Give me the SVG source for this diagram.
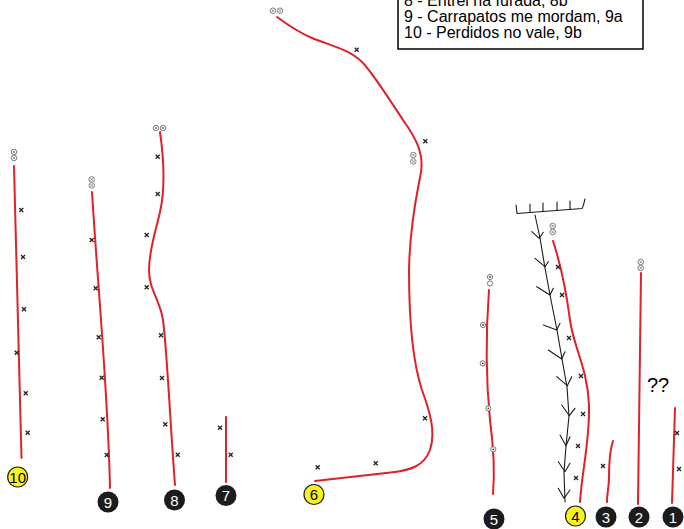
<svg xmlns="http://www.w3.org/2000/svg" xmlns:xlink="http://www.w3.org/1999/xlink" width="684" height="529" viewBox="0 0 684 529">
  <style>
    .route { fill: none; stroke: #e0202a; stroke-width: 2; stroke-linecap: round; stroke-linejoin: round; }
    .rock { fill: none; stroke: #1a1a1a; stroke-width: 1.1; stroke-linecap: round; stroke-linejoin: round; }
    .legend { font-family: "Liberation Sans", Arial, sans-serif; font-size: 16px; fill: #000; }
    .num { font-family: "Liberation Sans", Arial, sans-serif; font-size: 15px; text-anchor: middle; }
    .dark circle { fill: #1c1c1c; }
    .dark text { fill: #fff; }
    .hi circle { fill: #f7f21c; stroke: #1c1c1c; stroke-width: 1.2; }
    .hi text { fill: #000; }
    .q { font-family: "Liberation Sans", Arial, sans-serif; font-size: 20px; fill: #000; }
  </style>
  <defs>
    <!-- bolt -->
    <g id="x">
      <path d="M-2,-2 L2,2 M2,-2 L-2,2" stroke="#222" stroke-width="1.3" fill="none"/>
    </g>
    <!-- anchor ring with cross -->
    <g id="a">
      <circle r="2.8" fill="#fff" stroke="#777" stroke-width="0.9"/>
      <path d="M-1.5,-1.5 L1.5,1.5 M1.5,-1.5 L-1.5,1.5" stroke="#777" stroke-width="0.8"/>
    </g>
    <!-- ring bolt -->
    <g id="r">
      <circle r="2.6" fill="#fff" stroke="#555" stroke-width="0.8"/>
      <circle r="0.9" fill="#333"/>
    </g>
  </defs>

  <rect width="684" height="529" fill="#fff"/>

  <!-- legend box -->
  <g id="legend">
    <rect x="398" y="-60" width="245" height="109" fill="#fff" stroke="#000" stroke-width="1.5"/>
    <text class="legend" x="404" y="6.3">8 - Entrei na furada, 8b</text>
    <text class="legend" x="404" y="22">9 - Carrapatos me mordam, 9a</text>
    <text class="legend" x="404" y="37.6">10 - Perdidos no vale, 9b</text>
  </g>

  <!-- route lines -->
  <g id="connectors">
    <path class="route" d="M14,166 C16,260 19,340 20,400 L21.5,458"/>
    <path class="route" d="M92,192 C98,290 108,390 110,488"/>
    <path class="route" d="M160,132 C164,160 165,190 160,212 C156,230 149,250 149,270 C149,290 160,300 163,320 C167,350 170,420 175,485"/>
    <path class="route" d="M226,417 L226,482"/>
    <path class="route" d="M277,17 C292,28 300,33 312,38 C335,47 350,50 362,62 C372,72 390,100 403,120 C415,137 424,152 421,172 C418,190 410,220 409,270 C409,320 412,360 422,390 C430,412 436,432 430,450 C424,466 410,470 395,472 L315,481"/>
    <path class="route" d="M489,290 C486,330 486,380 490,420 C494,450 495,470 493,494"/>
    <path class="route" d="M553,241 C560,262 566,290 570,320 C573,345 588,370 589,405 C590,440 582,470 580,502"/>
    <path class="route" d="M613,441 C610,450 609,465 609,477 C609,487 607,493 607,502"/>
    <path class="route" d="M641,273 L638,504"/>
    <path class="route" d="M675,408 L672,503"/>
  </g>

  <!-- crack / dihedral with comb overhang -->
  <g id="crack">
    <path class="rock" d="M516,205 L517,213.5 L582,208.5 C584,205 584,202 585,199"/>
    <path class="rock" d="M530,204 L530,212.5 M543,203 L543,211.5 M557,202 L557,210.5 M570,201 L570,209.5"/>
    <path class="rock" d="M535,215 L540,238 L545,268 L550,295 L557,330 L562,359 L567,387 L569,416 L566,446 L564,472 L565,502"/>
    <path class="rock" d="M531.7,231.7 L539.3,238.3 L543.3,232.3 M535,258.3 L545,266.7 L548.3,261.7 M536.7,286.7 L550,295 L553.3,288.3 M543.3,325 L556.7,330 L560,323.3 M548.3,350 L561.7,359 L565,351.7 M556.7,376.7 L567.3,385.7 L571.7,376.7 M561.7,405 L569.3,415.7 L575,408.3 M560,435 L566,445.7 L570,436.7 M558.3,461.7 L565,471.7 L570,463.3 M558.3,488.3 L564,498.3 L570,490"/>
  </g>

  <!-- anchors -->
  <g id="anchors">
    <use xlink:href="#a" x="14" y="152"/><use xlink:href="#a" x="14" y="158"/>
    <use xlink:href="#a" x="91.7" y="179.5"/><use xlink:href="#a" x="91.7" y="185.5"/>
    <use xlink:href="#a" x="156" y="128"/><use xlink:href="#a" x="163" y="128"/>
    <use xlink:href="#a" x="273" y="10.7"/><use xlink:href="#a" x="280" y="10.7"/>
    <use xlink:href="#a" x="413.3" y="155"/><use xlink:href="#a" x="413.3" y="161.5"/>
    <use xlink:href="#a" x="552.7" y="226"/><use xlink:href="#a" x="552.7" y="232"/>
    <use xlink:href="#a" x="640.7" y="262"/><use xlink:href="#a" x="640.7" y="268"/>
    <use xlink:href="#r" x="490" y="277"/>
    <circle cx="490" cy="283.5" r="2.6" fill="#fff" stroke="#555" stroke-width="0.8"/>
  </g>

  <!-- bolts -->
  <g id="bolts">
    <use xlink:href="#x" x="21.3" y="210"/><use xlink:href="#x" x="23" y="257"/><use xlink:href="#x" x="24" y="309.3"/>
    <use xlink:href="#x" x="16.7" y="352.7"/><use xlink:href="#x" x="25.7" y="393.3"/><use xlink:href="#x" x="27.7" y="432.7"/>
    <use xlink:href="#x" x="91.7" y="240"/><use xlink:href="#x" x="95.7" y="288.3"/><use xlink:href="#x" x="98.7" y="337.3"/>
    <use xlink:href="#x" x="101.7" y="377.7"/><use xlink:href="#x" x="102.7" y="419.3"/><use xlink:href="#x" x="106.7" y="455"/>
    <use xlink:href="#x" x="157.7" y="156.7"/><use xlink:href="#x" x="157.7" y="194"/><use xlink:href="#x" x="146.7" y="235"/>
    <use xlink:href="#x" x="146.7" y="287.3"/><use xlink:href="#x" x="161" y="335.3"/><use xlink:href="#x" x="162" y="378"/>
    <use xlink:href="#x" x="165.3" y="424.3"/><use xlink:href="#x" x="177.7" y="454.7"/>
    <use xlink:href="#x" x="220" y="427.7"/><use xlink:href="#x" x="230.7" y="454.7"/>
    <use xlink:href="#x" x="356.7" y="49.7"/><use xlink:href="#x" x="425.3" y="141.3"/><use xlink:href="#x" x="425" y="418.3"/>
    <use xlink:href="#x" x="375.7" y="463.3"/><use xlink:href="#x" x="317.7" y="467.3"/>
    <use xlink:href="#x" x="558" y="267"/><use xlink:href="#x" x="562" y="295"/><use xlink:href="#x" x="569" y="338"/>
    <use xlink:href="#x" x="581" y="376"/><use xlink:href="#x" x="583" y="414"/><use xlink:href="#x" x="578" y="446"/>
    <use xlink:href="#x" x="576" y="478"/>
    <use xlink:href="#x" x="603" y="466"/>
    <use xlink:href="#x" x="677" y="433"/><use xlink:href="#x" x="679" y="469"/>
    <use xlink:href="#r" x="483" y="325"/><use xlink:href="#r" x="482.7" y="363.3"/>
    <use xlink:href="#r" x="488.3" y="408.3"/><use xlink:href="#r" x="493.3" y="449.3"/>
  </g>

  <text class="q" x="647" y="392">??</text>

  <!-- route numbers -->
  <g id="n10" class="hi"><circle cx="17.7" cy="477" r="10"/><text class="num" x="17.7" y="482.5">10</text></g>
  <g id="n9" class="dark"><circle cx="108" cy="502" r="10.5"/><text class="num" x="108" y="507.5">9</text></g>
  <g id="n8" class="dark"><circle cx="174.5" cy="500" r="10.5"/><text class="num" x="174.5" y="505.5">8</text></g>
  <g id="n7" class="dark"><circle cx="226" cy="495.5" r="10.5"/><text class="num" x="226" y="501">7</text></g>
  <g id="n6" class="hi"><circle cx="314" cy="494.5" r="10"/><text class="num" x="314" y="500">6</text></g>
  <g id="n5" class="dark"><circle cx="494" cy="519" r="10.5"/><text class="num" x="494" y="524.5">5</text></g>
  <g id="n4" class="hi"><circle cx="575.5" cy="516" r="10"/><text class="num" x="575.5" y="521.5">4</text></g>
  <g id="n3" class="dark"><circle cx="606" cy="517" r="10.5"/><text class="num" x="606" y="522.5">3</text></g>
  <g id="n2" class="dark"><circle cx="639" cy="517" r="10.5"/><text class="num" x="639" y="522.5">2</text></g>
  <g id="n1" class="dark"><circle cx="673" cy="517" r="10.5"/><text class="num" x="673" y="522.5">1</text></g>
</svg>
